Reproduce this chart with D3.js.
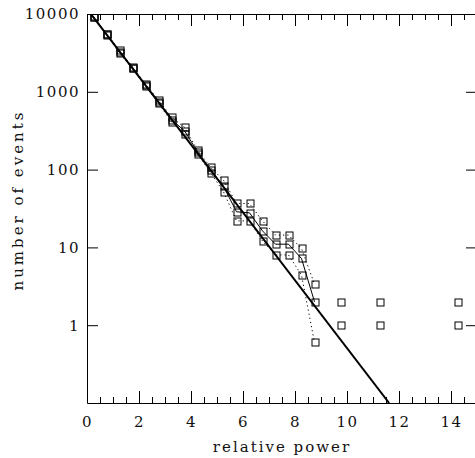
<!DOCTYPE html>
<html><head><meta charset="utf-8">
<script src="https://cdn.jsdelivr.net/npm/d3@7"></script>
<style>
body{margin:0;background:#fff;}
svg{display:block;}
.tk text{font-family:"DejaVu Serif",serif;font-size:15px;letter-spacing:1.5px;fill:#111;}
</style></head>
<body>
<svg id="c" width="475" height="458"></svg>
<script>
// ---- data ----
const binX = [0.25,0.75,1.25,1.75,2.25,2.75,3.25,3.75,4.25,4.75,5.25,5.75,6.25,6.75,7.25,7.75,8.25,8.75];
const upperCounts = [9300,5600,3400,2100,1260,790,470,350,178,107,73,36.7,36.7,21.9,14.4,14.4,9.7,3.37];
const middleCounts = [9200,5500,3250,2050,1220,750,440,315,170,100,61,28.7,27.8,16.3,11,11,7.2,2.0];
const lowerCounts = [9100,5450,3130,2000,1180,710,412,287,161,91,52,21.9,21.9,12.1,8,8,4.4,0.6];
const tailX = [9.75,11.25,14.25];
const tailHigh = [2,2,2];
const tailLow = [1,1,1];
const fitX = [0, 11.62];
const fitY = [11600, 0.1];
const xMajorTicks = [0,2,4,6,8,10,12,14];
const xMinorTicks = d3.range(0, 15.01, 0.5);
const yTicks = [1,10,100,1000,10000];
const xTitle = "relative power";
const yTitle = "number of events";

// ---- layout ----
const svg = d3.select("#c");
const L = 87, R = 477, T = 14, B = 403;
const x = d3.scaleLinear().domain([0,15]).range([L,R]);
const y = d3.scaleLog().domain([0.1,10000]).range([B,T]);

svg.append("clipPath").attr("id","clip").append("rect")
  .attr("x",L).attr("y",T).attr("width",R-L).attr("height",B-T);

// axes
function style(g){ g.selectAll("path,line").attr("stroke","#000").attr("stroke-width",1); g.attr("class","tk"); }
svg.append("g").attr("transform",`translate(0,${B})`)
  .call(d3.axisBottom(x).tickValues(xMinorTicks).tickSizeInner(-6).tickSizeOuter(0).tickFormat(""))
  .call(style);
svg.append("g").attr("transform",`translate(0,${B})`)
  .call(d3.axisBottom(x).tickValues(xMajorTicks).tickSizeInner(-12).tickSizeOuter(0).tickPadding(13).tickFormat(d3.format("d")))
  .call(style).call(g=>g.select(".domain").remove());
svg.append("g").attr("transform",`translate(0,${T})`)
  .call(d3.axisTop(x).tickValues(xMinorTicks).tickSizeInner(-6).tickSizeOuter(0).tickFormat(""))
  .call(style);
svg.append("g").attr("transform",`translate(0,${T})`)
  .call(d3.axisTop(x).tickValues(xMajorTicks).tickSizeInner(-12).tickSizeOuter(0).tickFormat(""))
  .call(style).call(g=>g.select(".domain").remove());
svg.append("g").attr("transform",`translate(${L},0)`)
  .call(d3.axisLeft(y).tickValues(yTicks).tickSizeInner(-11).tickSizeOuter(0).tickPadding(7).tickFormat(d3.format("d")))
  .call(style);
svg.append("g").attr("transform",`translate(${R},0)`)
  .call(d3.axisRight(y).tickValues(yTicks).tickSizeInner(-11).tickSizeOuter(0).tickFormat(""))
  .call(style);

// titles
svg.append("text").attr("x",(L+R)/2).attr("y",452).attr("text-anchor","middle").attr("fill","#111")
  .attr("font-family","DejaVu Serif").attr("font-size",15).attr("letter-spacing","2px").text(xTitle);
svg.append("text").attr("transform",`translate(23,200) rotate(-90)`).attr("text-anchor","middle").attr("fill","#111")
  .attr("font-family","DejaVu Serif").attr("font-size",15).attr("letter-spacing","3px").text(yTitle);

const plot = svg.append("g").attr("clip-path","url(#clip)");
const line = d3.line().x(d=>x(d[0])).y(d=>y(d[1]));

// fit line
plot.append("path").datum(d3.zip(fitX,fitY)).attr("d",line)
  .attr("fill","none").attr("stroke","#000").attr("stroke-width",2);

// series
const series = [
  {v:upperCounts, dash:"1.2,3"},
  {v:middleCounts, dash:null},
  {v:lowerCounts, dash:"1.2,3"}
];
series.forEach(s=>{
  plot.append("path").datum(d3.zip(binX,s.v)).attr("d",line)
    .attr("fill","none").attr("stroke","#000").attr("stroke-width",1)
    .attr("stroke-dasharray",s.dash);
});
const pts = [];
series.forEach(s=>binX.forEach((bx,i)=>pts.push([bx,s.v[i]])));
tailX.forEach((tx,i)=>{pts.push([tx,tailHigh[i]]);pts.push([tx,tailLow[i]]);});
const S = 7;
plot.selectAll("rect.pt").data(pts).join("rect").attr("class","pt")
  .attr("x",d=>Math.round(x(d[0]))-S/2+0.5).attr("y",d=>Math.round(y(d[1]))-S/2+0.5)
  .attr("width",S).attr("height",S)
  .attr("fill","none").attr("stroke","#000").attr("stroke-width",1);
</script>
</body></html>
